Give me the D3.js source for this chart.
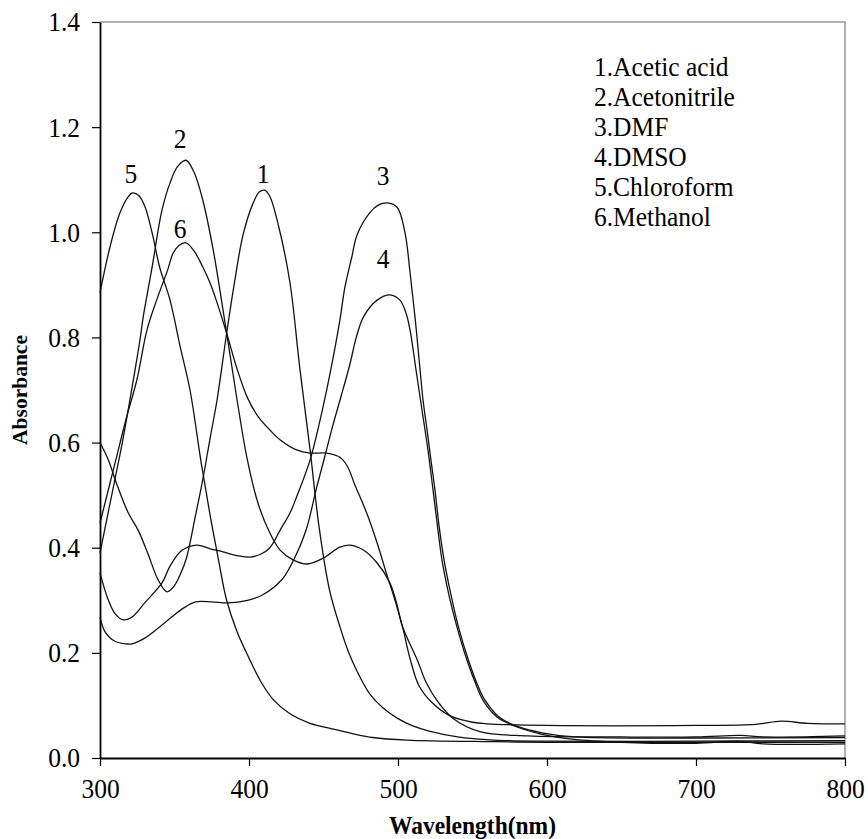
<!DOCTYPE html>
<html lang="en">
<head>
<meta charset="UTF-8">
<title>Absorbance spectra in solvents</title>
<script src="https://d3js.org/d3.v7.min.js"></script>
<style>
  body { margin: 0; background: #fff; }
  svg text { font-family: "Liberation Serif", "Times New Roman", serif; fill: #000; }
  .legend, .peak { font-size: 25.5px; }
  .axis-title { font-weight: bold; }
</style>
</head>
<body>
<div id="chart"></div>
<script>
// spectra: [wavelength nm, absorbance]
const aceticAcid = [[300,0.60],[305.6,0.567],[311,0.523],[319,0.466],[325.5,0.434],[332,0.39],[339,0.339],[345,0.316],[350,0.328],[354,0.35],[358,0.38],[364,0.46],[369,0.53],[374,0.61],[378.5,0.68],[385,0.808],[390,0.90],[396,0.995],[402.7,1.055],[407,1.077],[410.5,1.08],[414,1.068],[420,1.01],[427.5,0.904],[434,0.744],[441,0.586],[447,0.44],[454,0.32],[461,0.25],[467,0.20],[472.5,0.165],[481,0.122],[490,0.095],[500,0.075],[510,0.061],[521,0.051],[540,0.04],[564,0.034],[600,0.032],[700,0.032],[800,0.033]];
const acetonitrile = [[300,0.39],[305,0.46],[310,0.53],[315,0.60],[320,0.68],[326.8,0.795],[329,0.839],[335,0.934],[341.6,1.042],[347,1.094],[352,1.125],[357.7,1.137],[363,1.115],[369,1.061],[376,0.966],[385,0.808],[392,0.681],[398.7,0.57],[406,0.485],[414,0.428],[421,0.395],[429.5,0.377],[439,0.369],[449.7,0.38],[461,0.401],[468,0.405],[476.5,0.396],[486,0.371],[494.6,0.333],[499,0.295],[503,0.25],[513,0.186],[519,0.143],[526,0.11],[537,0.075],[555,0.05],[587,0.042],[650,0.04],[700,0.04],[730,0.043],[745,0.04],[800,0.042]];
const dmf = [[300,0.352],[305,0.305],[310,0.275],[315,0.263],[321.5,0.268],[330,0.295],[341.6,0.333],[347,0.365],[355,0.395],[365,0.405],[374,0.398],[382.6,0.392],[392,0.385],[400.7,0.382],[408,0.388],[414,0.40],[421,0.434],[427.5,0.466],[432,0.497],[441,0.567],[449.7,0.668],[455,0.74],[461,0.833],[464.4,0.896],[469,0.953],[472.5,0.995],[481,1.037],[487,1.052],[492.6,1.056],[499.3,1.048],[504.7,0.999],[508.1,0.923],[511.4,0.839],[514.4,0.751],[516.8,0.681],[519.5,0.624],[522.1,0.567],[524.8,0.51],[527.5,0.443],[530.9,0.377],[535.6,0.31],[540.6,0.249],[547.3,0.186],[554,0.135],[558.4,0.11],[567.8,0.078],[581.2,0.059],[596.6,0.048],[618.8,0.04],[700,0.038],[800,0.039]];
const dmso = [[300,0.268],[303.4,0.24],[310,0.222],[318,0.217],[321.5,0.217],[330,0.228],[341.6,0.253],[348,0.268],[356,0.285],[364,0.297],[375,0.297],[386,0.295],[399,0.30],[409,0.31],[422,0.339],[427.5,0.363],[433,0.395],[439,0.44],[445,0.51],[451,0.575],[456,0.63],[462,0.69],[467.8,0.75],[472,0.80],[477,0.84],[486,0.871],[494.6,0.881],[501.3,0.871],[505.5,0.845],[508.1,0.814],[512.1,0.738],[516.1,0.662],[520.1,0.586],[523.5,0.51],[526.8,0.434],[529.5,0.377],[534.2,0.31],[539.6,0.249],[546.3,0.186],[553,0.135],[557,0.11],[566.4,0.078],[579.9,0.059],[595.3,0.046],[617,0.036],[650,0.03],[700,0.028],[728,0.032],[745,0.027],[800,0.027]];
const chloroform = [[300,0.885],[306.7,0.972],[313.4,1.037],[319,1.068],[322,1.075],[326,1.07],[330,1.05],[335,0.999],[340,0.934],[347,0.871],[354,0.78],[360.4,0.70],[368,0.56],[374,0.46],[379,0.385],[385,0.30],[392,0.24],[400,0.19],[408,0.145],[416,0.112],[427,0.085],[441,0.066],[455,0.056],[470,0.046],[483,0.039],[506,0.034],[564,0.031],[600,0.03],[700,0.03],[800,0.03]];
const methanol = [[300,0.447],[310,0.56],[318,0.65],[324.8,0.72],[331.5,0.814],[338,0.871],[345.6,0.93],[349,0.96],[353,0.975],[357.7,0.98],[363,0.965],[369,0.934],[373.8,0.904],[378,0.871],[385,0.808],[392,0.74],[399,0.685],[406,0.65],[414,0.624],[421,0.605],[432,0.586],[441,0.58],[452,0.58],[461,0.572],[466,0.555],[471,0.52],[479,0.466],[486,0.409],[493,0.344],[498,0.3],[503,0.25],[508,0.19],[514,0.138],[523,0.105],[535,0.08],[550,0.068],[560,0.065],[600,0.062],[700,0.062],[740,0.064],[757,0.07],[775,0.066],[800,0.065]];

const seriesList = [aceticAcid, acetonitrile, dmf, dmso, chloroform, methanol];
const legendLabels = ["1.Acetic acid", "2.Acetonitrile", "3.DMF", "4.DMSO", "5.Chloroform", "6.Methanol"];

// numbers placed above the peaks: [label, wavelength, absorbance at baseline]
const peakLabels = [["5", 320.8, 1.094], ["2", 353.7, 1.16], ["1", 409.4, 1.094], ["6", 353.7, 0.989], ["3", 490, 1.09], ["4", 490, 0.932]];

const xTicks = [300, 400, 500, 600, 700, 800];
const yTicks = [0, 0.2, 0.4, 0.6, 0.8, 1.0, 1.2, 1.4];

const width = 868, height = 839;
const margin = { top: 22, right: 23, bottom: 81, left: 100 };
const stretch = 1.1; // the lettering in the picture is a bit taller than wide

const svg = d3.select("#chart").append("svg")
  .attr("width", width)
  .attr("height", height);

const x = d3.scaleLinear().domain([300, 800]).range([margin.left, width - margin.right]);
const y = d3.scaleLinear().domain([0, 1.4]).range([height - margin.bottom, margin.top]);

// grey frame on top and right
svg.append("path")
  .attr("d", `M${x(300)},${y(1.4)}H${x(800)}V${y(0)}`)
  .attr("fill", "none")
  .attr("stroke", "#999")
  .attr("stroke-width", 1.5);

// axes
const xAxis = svg.append("g")
  .attr("transform", `translate(0,${y(0)})`)
  .call(d3.axisBottom(x).tickValues(xTicks).tickSize(8).tickSizeOuter(0).tickPadding(10));
const yAxis = svg.append("g")
  .attr("transform", `translate(${x(300)},0)`)
  .call(d3.axisLeft(y).tickValues(yTicks).tickSize(8).tickSizeOuter(0).tickPadding(12).tickFormat(d3.format(".1f")));

[xAxis, yAxis].forEach(g => {
  g.attr("font-family", null).attr("font-size", null);
  g.select(".domain").attr("stroke", "#000").attr("stroke-width", 1.8);
  g.selectAll(".tick line").attr("stroke", "#000").attr("stroke-width", 1.2);
  g.selectAll(".tick text")
    .attr("fill", "#000")
    .style("font-size", "25.5px")
    .attr("transform", `scale(1,${stretch})`);
});

// spectra
const line = d3.line()
  .x(d => x(d[0]))
  .y(d => y(d[1]))
  .curve(d3.curveCatmullRom.alpha(0.5));

svg.append("g").selectAll("path")
  .data(seriesList)
  .join("path")
  .attr("d", line)
  .attr("fill", "none")
  .attr("stroke", "#111")
  .attr("stroke-width", 1.3);

// peak numbers
svg.append("g").selectAll("text")
  .data(peakLabels)
  .join("text")
  .attr("class", "peak")
  .attr("transform", d => `translate(${x(d[1])},${y(d[2])}) scale(1,${stretch})`)
  .attr("text-anchor", "middle")
  .text(d => d[0]);

// legend
svg.append("g").selectAll("text")
  .data(legendLabels)
  .join("text")
  .attr("class", "legend")
  .attr("transform", (d, i) => `translate(594,${76 + i * 30}) scale(1,${stretch})`)
  .text(d => d);

// axis titles
svg.append("text")
  .attr("class", "axis-title")
  .attr("transform", `translate(${(x(300) + x(800)) / 2},834) scale(1,${stretch})`)
  .attr("text-anchor", "middle")
  .style("font-size", "23.5px")
  .text("Wavelength(nm)");

svg.append("text")
  .attr("class", "axis-title")
  .attr("transform", `translate(27,${(y(0) + y(1.4)) / 2}) rotate(-90)`)
  .attr("text-anchor", "middle")
  .style("font-size", "21.5px")
  .text("Absorbance");
</script>
</body>
</html>
